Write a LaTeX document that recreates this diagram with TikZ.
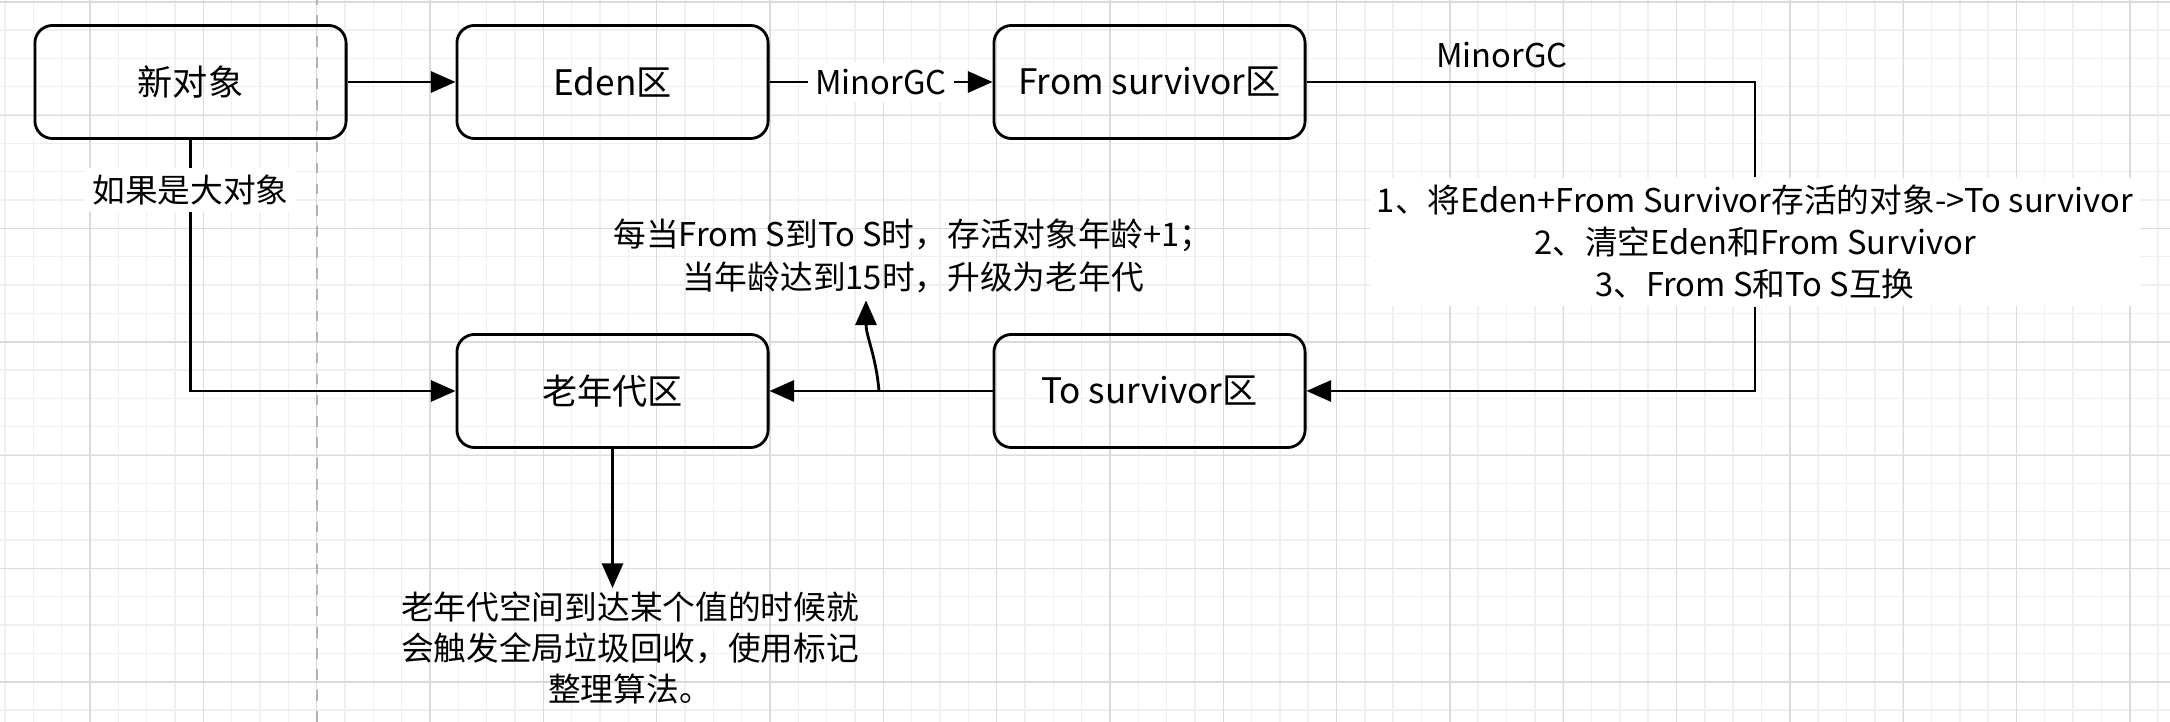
\documentclass[tikz,border=0pt]{standalone}
\usepackage{fontspec}
\setmainfont{Noto Sans CJK SC}
\usetikzlibrary{positioning,arrows.meta}
\colorlet{grid minor}{black!6}
\colorlet{grid major}{black!14}
\tikzset{
  stage/.style={draw, thick, rounded corners=5pt, minimum width=3.11cm, minimum height=1.13cm, inner sep=0pt, font=\fontsize{10pt}{12pt}\selectfont},
  note/.style={fill=white, inner sep=2pt, align=center, font=\fontsize{9.3pt}{12pt}\selectfont},
  flow/.style={draw, thick, -{Triangle[length=7pt,width=6pt]}}
  }
\begin{document}
\begin{tikzpicture}[x=0.01cm, y=0.01cm]
    % Background grid
    \useasboundingbox (0,0) rectangle (2170,722);
    \foreach \i in {0,...,76}
      \draw[grid minor] (5+28.33*\i,0) -- (5+28.33*\i,722);
    \foreach \i in {0,...,25}
      \draw[grid minor] (0,12+28.33*\i) -- (2170,12+28.33*\i);
    \foreach \i in {0,...,19}
      \draw[grid major] (90+113.33*\i,0) -- (90+113.33*\i,722);
    \foreach \i in {0,...,6}
      \draw[grid major] (0,40+113.33*\i) -- (2170,40+113.33*\i);
    \draw[black!30, dashed] (317,0) -- (317,722);

    % The stages
    \node[stage] (new) at (190.5,640) {新对象};
    \node[stage] (eden) at (612.5,640) {Eden区};
    \node[stage] (from) at (1149.5,640) {From survivor区};
    \node[stage] (old) at (612.5,331) {老年代区};
    \node[stage] (to) at (1149.5,331) {To survivor区};

    % Helper points
    \coordinate (turn1) at (1755,640);
    \coordinate (turn2) at (1755,331);
    \coordinate (split) at (879,331);
    \coordinate (bend) at (190.5,331);

    % Notes
    \node[note] (rules) at (1755,480) {1、将Eden+From Survivor存活的对象->To survivor\\2、清空Eden和From Survivor\\3、From S和To S互换};
    \node[note, fill=none] (age) at (913,466) {每当From S到To S时，存活对象年龄+1；\\当年龄达到15时，升级为老年代};
    \node[note, fill=none, font=\fontsize{9.3pt}{11.8pt}\selectfont] (gc) at (630,74) {老年代空间到达某个值的时候就\\会触发全局垃圾回收，使用标记\\整理算法。};
    \coordinate (gctop) at (612.5,134);

    % Connections
    \path[flow] (new) -- (eden);
    \path[flow] (eden) -- node[note] {MinorGC} (from);
    \draw[thick] (from) -- (turn1) -- (rules);
    \path[flow] (rules) -- (turn2) -- (to);
    \node[note, fill=none] at (1502,667) {MinorGC};
    \path[flow] (to) -- (old);
    \path[flow] (split) to[out=95,in=-90] (age.south -| 866,0);
    \path[flow] (new) -- node[note, pos=0.2] {如果是大对象} (bend) -- (old);
    \path[flow] (old) -- (gctop);
\end{tikzpicture}
\end{document}
